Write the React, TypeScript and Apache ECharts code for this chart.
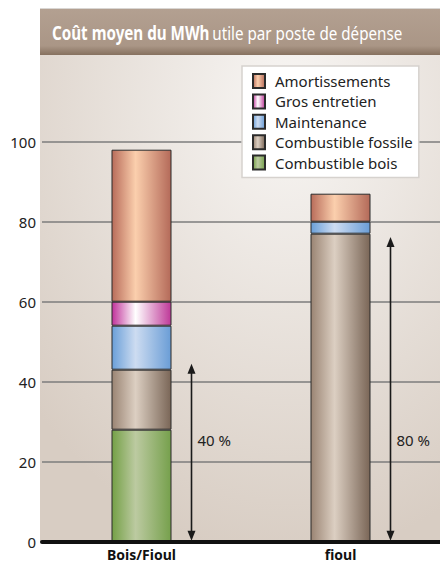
import React, { useEffect, useRef } from "react";
import * as echarts from "echarts";

const categories = ["Bois/Fioul", "fioul"];
const combustibleBois = [28, null];
const combustibleFossile = [15, 77];
const maintenance = [11, 3];
const grosEntretien = [6, null];
const amortissements = [38, 7];
const arrowTops = [44.5, 76.2];
const arrowLabels = ["40 %", "80 %"];
const yTicks = { min: 0, max: 100, interval: 20 };

const FONT = "'Noto Sans', sans-serif";

function grad(edgeL: string, mid: string, edgeR: string) {
  return new echarts.graphic.LinearGradient(0, 0, 1, 0, [
    { offset: 0, color: edgeL },
    { offset: 0.4, color: mid },
    { offset: 1, color: edgeR },
  ]);
}

export default function App() {
  const ref = useRef<HTMLDivElement>(null);
  useEffect(() => {
    const chart = echarts.init(ref.current!, null, { renderer: "svg" });
    const barBase = {
      type: "bar",
      stack: "total",
      barWidth: 60,
      itemStyle: { borderColor: "#2b2b2b", borderWidth: 1 },
    };
    const mk = (name: string, data: any[], color: any) => ({
      ...barBase,
      name,
      data,
      itemStyle: { ...barBase.itemStyle, color },
    });
    chart.setOption({
      animation: false,
      graphic: [
        {
          type: "rect",
          z: -10,
          shape: { x: 40, y: 8, width: 400, height: 534 },
          style: {
            fill: new echarts.graphic.RadialGradient(0.62, 0.18, 0.85, [
              { offset: 0, color: "#f8f6f4" },
              { offset: 1, color: "#d8cdc3" },
            ]),
          },
        },
        {
          type: "rect",
          z: -9,
          shape: { x: 40, y: 8, width: 400, height: 1 },
          style: { fill: "#d9d6d3" },
        },
        {
          type: "rect",
          z: -9,
          shape: { x: 40, y: 9, width: 400, height: 46 },
          style: {
            fill: new echarts.graphic.LinearGradient(0, 0, 0, 1, [
              { offset: 0, color: "#b3a091" },
              { offset: 0.8, color: "#aa9686" },
              { offset: 1, color: "#86715f" },
            ]),
          },
        },
        {
          type: "text",
          z: 10,
          x: 52,
          y: 33,
          scaleX: 0.8,
          style: {
            text: "{b|Coût moyen du MWh} {n|utile par poste de dépense}",
            verticalAlign: "middle",
            rich: {
              b: { fontFamily: FONT, fontSize: 19, fontWeight: "bold", fill: "#ffffff" },
              n: { fontFamily: FONT, fontSize: 19, fill: "#ffffff" },
            },
          },
        },
      ],
      legend: {
        orient: "vertical",
        left: 242,
        top: 66,
        backgroundColor: "#ffffff",
        borderColor: "#d6d2ce",
        borderWidth: 1.5,
        padding: [7, 6, 7, 10],
        itemWidth: 12,
        itemHeight: 14,
        itemGap: 4.4,
        icon: "rect",
        data: ["Amortissements", "Gros entretien", "Maintenance", "Combustible fossile", "Combustible bois"],
        textStyle: { fontFamily: FONT, fontSize: 15, color: "#222", lineHeight: 14, padding: [0, 0, 0, 5] },
      },
      grid: { left: 42, right: -2, top: 141.7, bottom: 22.3 },
      xAxis: {
        type: "category",
        data: categories,
        axisTick: { show: false },
        axisLine: { lineStyle: { color: "#111", width: 4 } },
        axisLabel: {
          fontFamily: FONT,
          fontWeight: "bold",
          fontSize: 14,
          lineHeight: 14,
          color: "#111",
          margin: 6,
        },
        z: 5,
      },
      yAxis: {
        type: "value",
        min: yTicks.min,
        max: yTicks.max,
        interval: yTicks.interval,
        axisLine: { show: false },
        axisTick: { show: false },
        axisLabel: { fontFamily: FONT, fontSize: 15, color: "#222", margin: 6 },
        splitLine: { lineStyle: { color: "#7d7d7d", width: 1.5 } },
      },
      series: [
        mk("Combustible bois", combustibleBois, grad("#74a046", "#bccaa1", "#76a04c")),
        mk("Combustible fossile", combustibleFossile, grad("#9a8473", "#dccfc2", "#7a6657")),
        mk("Maintenance", maintenance, grad("#6a9fd8", "#cddcf1", "#6a9dd6")),
        mk("Gros entretien", grosEntretien, grad("#c0329a", "#ffffff", "#be3898")),
        mk("Amortissements", amortissements, grad("#b86c5a", "#fbcfad", "#b46a59")),
        {
          type: "custom",
          name: "arrows",
          z: 6,
          data: arrowTops.map((t, i) => [i, t, arrowLabels[i]]),
          renderItem: (params: any, api: any) => {
            const i = api.value(0);
            const top = api.value(1);
            const p0 = api.coord([i, 0]);
            const p1 = api.coord([i, top]);
            const pl = api.coord([i, 25.4]);
            const x = p0[0] + 50;
            const yb = p0[1] - 1;
            const yt = p1[1];
            const label = arrowLabels[params.dataIndex];
            return {
              type: "group",
              children: [
                {
                  type: "line",
                  shape: { x1: x, y1: yt + 6, x2: x, y2: yb - 6 },
                  style: { stroke: "#1a1a1a", lineWidth: 1.6 },
                },
                {
                  type: "polygon",
                  shape: { points: [[x, yt], [x - 4, yt + 10], [x + 4, yt + 10]] },
                  style: { fill: "#1a1a1a" },
                },
                {
                  type: "polygon",
                  shape: { points: [[x, yb], [x - 4, yb - 10], [x + 4, yb - 10]] },
                  style: { fill: "#1a1a1a" },
                },
                {
                  type: "text",
                  x: x + 6,
                  y: pl[1],
                  style: {
                    text: label,
                    fontFamily: FONT,
                    fontSize: 15,
                    fill: "#222",
                    verticalAlign: "middle",
                  },
                },
              ],
            };
          },
        },
      ],
    });
    return () => chart.dispose();
  }, []);
  return (
    <div
      ref={ref}
      style={{ position: "fixed", left: 0, top: 0, width: 440, height: 564, background: "#ffffff" }}
    />
  );
}
